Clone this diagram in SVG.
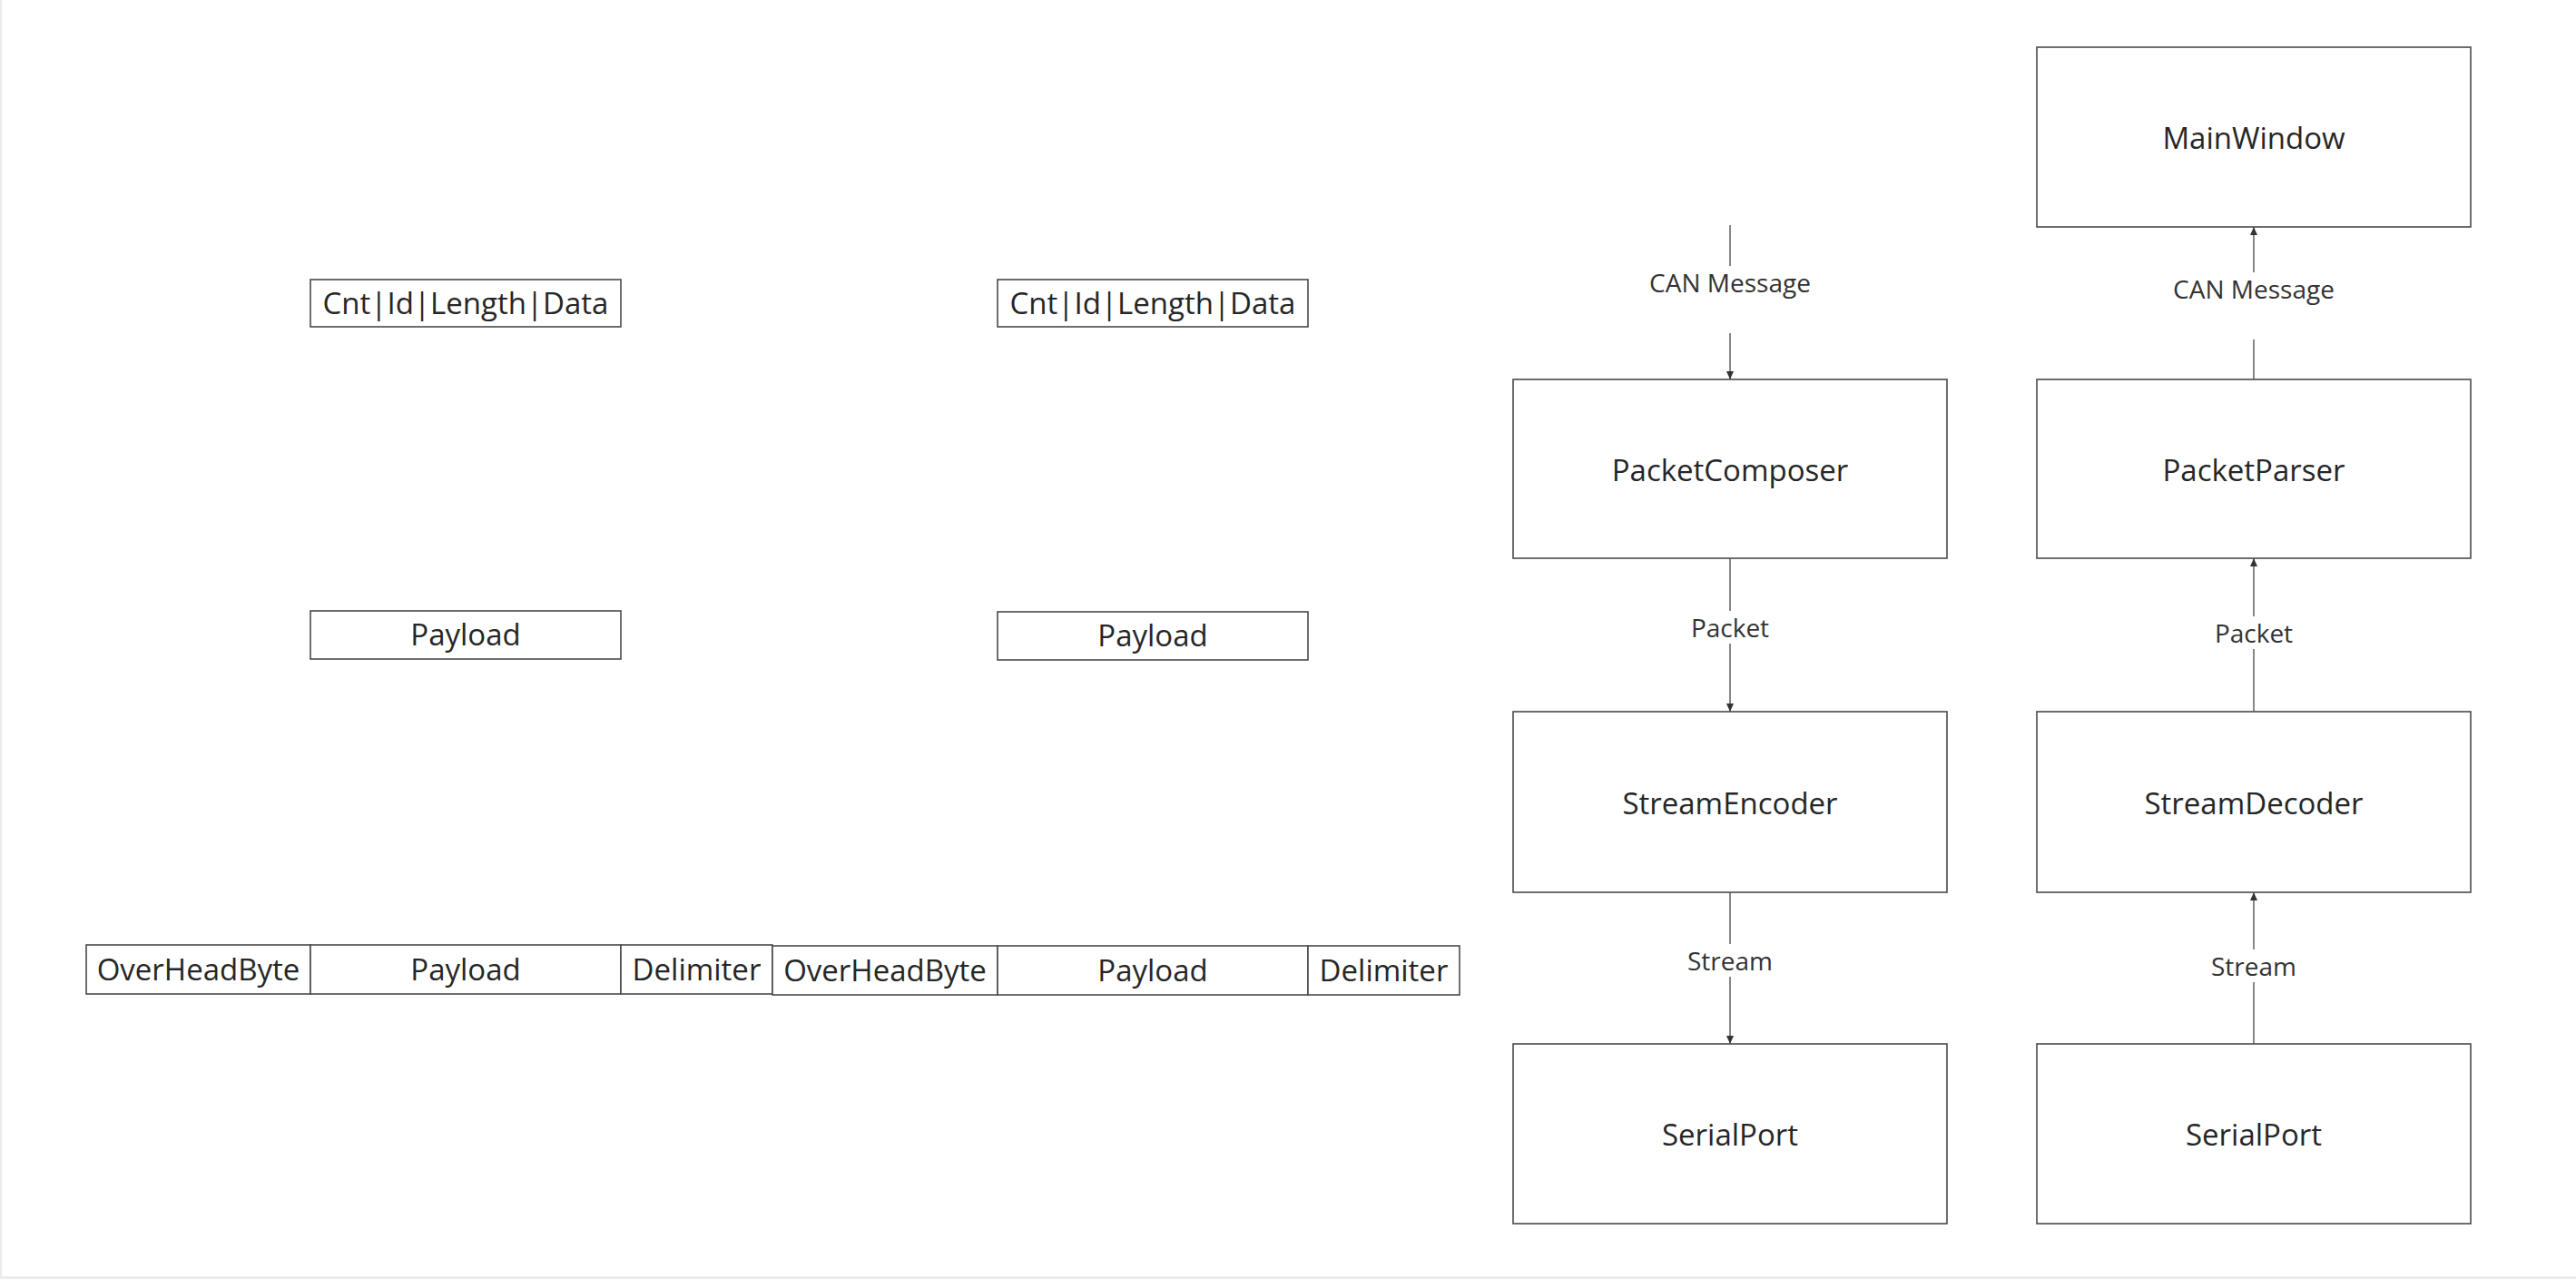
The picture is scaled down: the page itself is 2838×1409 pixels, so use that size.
<svg xmlns="http://www.w3.org/2000/svg" width="2838" height="1409" viewBox="0 0 2838 1409">
<style>
  .box { fill: #ffffff; stroke: #4a4a4a; stroke-width: 1.6; }
  .cell { fill: #ffffff; stroke: #4a4a4a; stroke-width: 1.6; }
  .t { font-family: "Open Sans", "Noto Sans", sans-serif; font-size: 33px; fill: #262626; text-anchor: middle; }
  .lbl { font-family: "Open Sans", "Noto Sans", sans-serif; font-size: 28px; fill: #333333; text-anchor: middle; }
  .edge { stroke: #555555; stroke-width: 1.4; fill: none; }
</style>
<defs>
  <marker id="arrow" markerUnits="userSpaceOnUse" markerWidth="10" markerHeight="10" refX="9" refY="5" orient="auto">
    <path d="M0,1 L9,5 L0,9 z" fill="#333333"/>
  </marker>
</defs>
<rect x="0" y="0" width="2838" height="1409" fill="#ffffff"/>
<line x1="1" y1="0" x2="1" y2="1409" stroke="#ebebeb" stroke-width="2"/>
<line x1="0" y1="1407.5" x2="2838" y2="1407.5" stroke="#ebebeb" stroke-width="3"/>

<g id="frame-left">
  <g id="cnt-left"><rect class="cell" x="342" y="308" width="342" height="52"/><text class="t" x="513" y="346">Cnt|Id|Length|Data</text></g>
  <g id="payload-left"><rect class="cell" x="342" y="673" width="342" height="53"/><text class="t" x="513" y="711">Payload</text></g>
  <g id="overhead-1"><rect class="cell" x="95" y="1041" width="247" height="54"/><text class="t" x="218.5" y="1080">OverHeadByte</text></g>
  <g id="payload-1"><rect class="cell" x="342" y="1041" width="342" height="54"/><text class="t" x="513" y="1080">Payload</text></g>
  <g id="delimiter-1"><rect class="cell" x="684" y="1041" width="167" height="54"/><text class="t" x="767.5" y="1080">Delimiter</text></g>
</g>

<g id="frame-right">
  <g id="cnt-right"><rect class="cell" x="1099" y="308" width="342" height="52"/><text class="t" x="1270" y="346">Cnt|Id|Length|Data</text></g>
  <g id="payload-right"><rect class="cell" x="1099" y="674" width="342" height="53"/><text class="t" x="1270" y="712">Payload</text></g>
  <g id="overhead-2"><rect class="cell" x="851" y="1042" width="248" height="54"/><text class="t" x="975" y="1081">OverHeadByte</text></g>
  <g id="payload-2"><rect class="cell" x="1099" y="1042" width="342" height="54"/><text class="t" x="1270" y="1081">Payload</text></g>
  <g id="delimiter-2"><rect class="cell" x="1441" y="1042" width="167" height="54"/><text class="t" x="1524.5" y="1081">Delimiter</text></g>
</g>

<g id="MainWindow"><rect class="box" x="2244" y="52" width="478" height="198"/><text class="t" x="2483" y="164">MainWindow</text></g>
<g id="PacketComposer"><rect class="box" x="1667" y="418" width="478" height="197"/><text class="t" x="1906" y="530">PacketComposer</text></g>
<g id="PacketParser"><rect class="box" x="2244" y="418" width="478" height="197"/><text class="t" x="2483" y="530">PacketParser</text></g>
<g id="StreamEncoder"><rect class="box" x="1667" y="784" width="478" height="199"/><text class="t" x="1906" y="897">StreamEncoder</text></g>
<g id="StreamDecoder"><rect class="box" x="2244" y="784" width="478" height="199"/><text class="t" x="2483" y="897">StreamDecoder</text></g>
<g id="SerialPort-left"><rect class="box" x="1667" y="1150" width="478" height="198"/><text class="t" x="1906" y="1262">SerialPort</text></g>
<g id="SerialPort-right"><rect class="box" x="2244" y="1150" width="478" height="198"/><text class="t" x="2483" y="1262">SerialPort</text></g>

<g id="connectors">
  <line class="edge" x1="1906" y1="248" x2="1906" y2="293"/>
  <line class="edge" x1="1906" y1="367" x2="1906" y2="418" marker-end="url(#arrow)"/>
  <text class="lbl" x="1906" y="322">CAN Message</text>

  <line class="edge" x1="1906" y1="615" x2="1906" y2="673"/>
  <line class="edge" x1="1906" y1="709" x2="1906" y2="784" marker-end="url(#arrow)"/>
  <text class="lbl" x="1906" y="702">Packet</text>

  <line class="edge" x1="1906" y1="983" x2="1906" y2="1040"/>
  <line class="edge" x1="1906" y1="1076" x2="1906" y2="1150" marker-end="url(#arrow)"/>
  <text class="lbl" x="1906" y="1069">Stream</text>

  <line class="edge" x1="2483" y1="418" x2="2483" y2="374"/>
  <line class="edge" x1="2483" y1="300" x2="2483" y2="250" marker-end="url(#arrow)"/>
  <text class="lbl" x="2483" y="329">CAN Message</text>

  <line class="edge" x1="2483" y1="784" x2="2483" y2="715"/>
  <line class="edge" x1="2483" y1="679" x2="2483" y2="615" marker-end="url(#arrow)"/>
  <text class="lbl" x="2483" y="708">Packet</text>

  <line class="edge" x1="2483" y1="1150" x2="2483" y2="1082"/>
  <line class="edge" x1="2483" y1="1046" x2="2483" y2="983" marker-end="url(#arrow)"/>
  <text class="lbl" x="2483" y="1075">Stream</text>
</g>
</svg>
